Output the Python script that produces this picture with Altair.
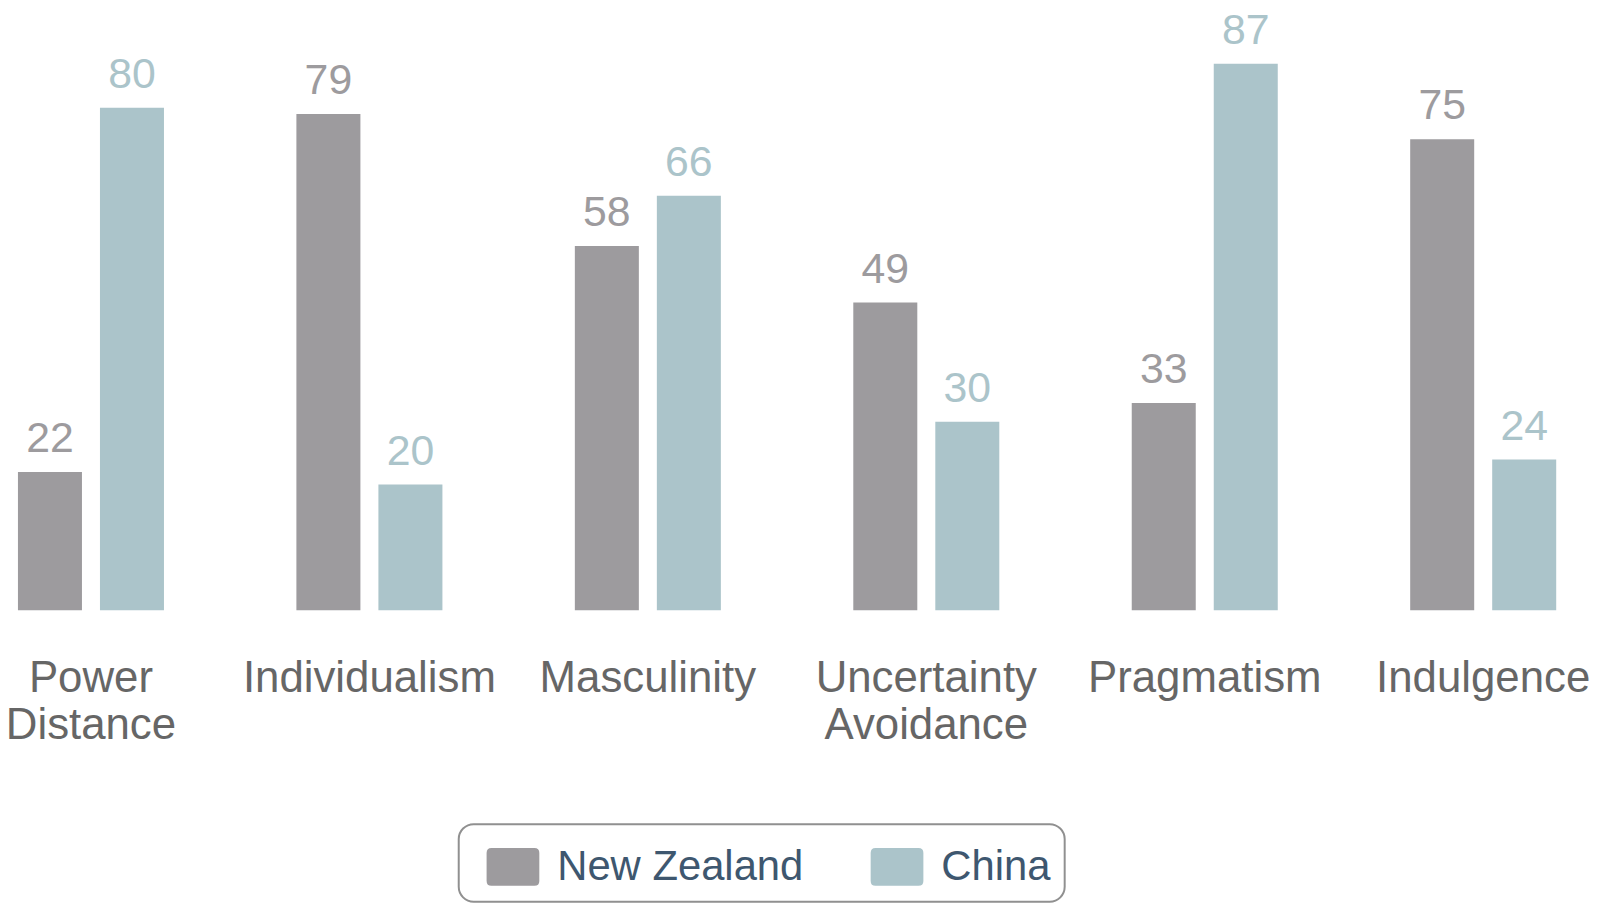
import altair as alt
import pandas as pd

categories = ["Power Distance", "Individualism", "Masculinity",
              "Uncertainty Avoidance", "Pragmatism", "Indulgence"]
series_names = ["New Zealand", "China"]
new_zealand = [22, 79, 58, 49, 33, 75]
china = [80, 20, 66, 30, 87, 24]
colors = ["#9D9B9E", "#ABC4CA"]

rows = []
for c, nz, cn in zip(categories, new_zealand, china):
    rows.append({"dimension": c, "country": series_names[0], "score": nz})
    rows.append({"dimension": c, "country": series_names[1], "score": cn})
df = pd.DataFrame(rows)

FONT = "Liberation Sans"
# rounded-rectangle legend swatch (unit coordinates, offset inside the entry)
symbol_path = ("M-0.35,-0.655 L1.14,-0.655 Q1.31,-0.655 1.31,-0.485 L1.31,0.485 "
               "Q1.31,0.655 1.14,0.655 L-0.35,0.655 Q-0.517,0.655 -0.517,0.485 "
               "L-0.517,-0.485 Q-0.517,-0.655 -0.35,-0.655 Z")

color = alt.Color(
    "country:N",
    scale=alt.Scale(domain=series_names, range=colors),
    legend=alt.Legend(
        title=None, orient="none", legendX=443, legendY=814,
        direction="horizontal", symbolType=symbol_path, symbolSize=3364,
        symbolStrokeWidth=0, symbolOpacity=1,
        labelFont=FONT, labelFontSize=42, labelColor="#3E576F",
        labelOffset=27, columnPadding=53, labelLimit=1000,
    ),
)

base = alt.Chart(df).encode(
    x=alt.X(
        "dimension:N", sort=categories,
        scale=alt.Scale(paddingInner=0.4756, paddingOuter=0),
        axis=alt.Axis(
            title=None, labelAngle=0, domain=False, ticks=False, tickSize=0,
            labelPadding=47, labelFont=FONT, labelFontSize=44,
            labelColor="#666666", labelBaseline="top", labelLineHeight=47,
            labelExpr="split(datum.label, ' ')", labelLimit=1000,
            labelOverlap=False, grid=False,
        ),
    ),
    xOffset=alt.XOffset(
        "country:N", sort=series_names,
        scale=alt.Scale(paddingInner=0.2195, paddingOuter=0),
    ),
    y=alt.Y("score:Q", scale=alt.Scale(domain=[0, 94.9], nice=False, zero=True),
            axis=None),
    color=color,
)

bars = base.mark_bar()
labels = base.mark_text(dy=-20, baseline="alphabetic", align="center",
                        font=FONT, fontSize=43).encode(text="score:Q")

chart = (
    alt.layer(bars, labels)
    .properties(
        width=1546, height=599,
        padding={"left": 10, "top": 4, "right": 41, "bottom": 293},
        autosize=alt.AutoSizeParams(type="none"),
    )
    .configure_view(stroke=None)
    .configure_legend(strokeColor="#909090", strokeWidth=2, cornerRadius=15,
                      padding=14)
)

chart.save("out.html", embed_options={"renderer": "svg", "actions": False})
